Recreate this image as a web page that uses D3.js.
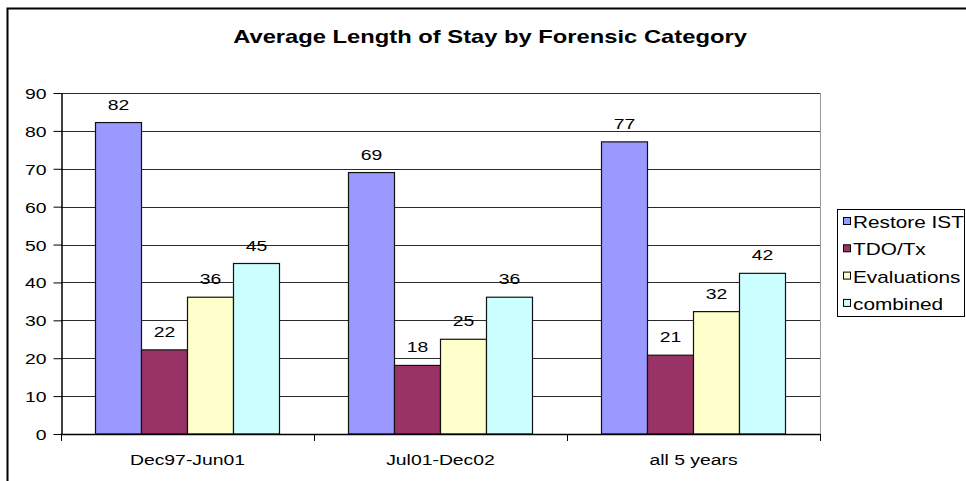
<!DOCTYPE html>
<html>
<head>
<meta charset="utf-8">
<script src="https://cdn.jsdelivr.net/npm/d3@7"></script>
<style>
  html, body { margin: 0; padding: 0; background: #fff; }
  svg { display: block; font-family: Arial, "Liberation Sans", sans-serif; }
</style>
</head>
<body>
<svg id="chart" width="966" height="481"></svg>
<script>
// ---- data ----
const categories = ["Dec97-Jun01", "Jul01-Dec02", "all 5 years"];
const seriesNames = ["Restore IST", "TDO/Tx", "Evaluations", "combined"];
const restoreIST = [82.2, 69.0, 77.1];
const tdoTx = [22.2, 18.1, 20.8];
const evaluations = [36.1, 25.0, 32.3];
const combined = [45.0, 36.1, 42.4];
const seriesColors = ["#9999FF", "#993366", "#FFFFCC", "#CCFFFF"];
const yTicks = [0, 10, 20, 30, 40, 50, 60, 70, 80, 90];
const title = "Average Length of Stay by Forensic Category";

const seriesValues = [restoreIST, tdoTx, evaluations, combined];
const data = categories.map((c, i) => ({
  category: c,
  values: seriesNames.map((s, j) => ({ series: s, value: seriesValues[j][i], color: seriesColors[j] }))
}));

// ---- layout ----
const SX = 1.25; // horizontal text stretch of the original picture
const svg = d3.select("#chart");
const plot = { left: 61, right: 820, top: 93, bottom: 434 };

const x0 = d3.scaleBand().domain(categories).range([plot.left, plot.right]).padding(0);
const x1 = d3.scaleBand().domain(seriesNames).range([0, x0.bandwidth()]).paddingInner(0).paddingOuter(0.75);
const y = d3.scaleLinear().domain([0, 90]).range([plot.bottom, plot.top]);

function stretchedText(g, x, yy, txt, sx) {
  return g.append("text")
    .attr("transform", `translate(${x},${yy}) scale(${sx || SX},1)`)
    .text(txt);
}

// outer border
svg.append("rect")
  .attr("x", 7.5).attr("y", 8.5).attr("width", 980).attr("height", 500)
  .attr("fill", "none").attr("stroke", "#000").attr("stroke-width", 2);

// title
stretchedText(svg, 490, 43, title)
  .attr("text-anchor", "middle")
  .attr("font-size", 19).attr("font-weight", "bold").attr("fill", "#000");

// gridlines
svg.append("g").selectAll("line")
  .data(yTicks.filter(t => t > 0))
  .join("line")
  .attr("x1", plot.left).attr("x2", plot.right)
  .attr("y1", d => Math.round(y(d)) + 0.5).attr("y2", d => Math.round(y(d)) + 0.5)
  .attr("stroke", "#2a2a2a").attr("stroke-width", 1.2);

// right plot border
svg.append("line")
  .attr("x1", plot.right + 0.5).attr("x2", plot.right + 0.5)
  .attr("y1", plot.top).attr("y2", plot.bottom)
  .attr("stroke", "#999").attr("stroke-width", 1);

// y axis
const yAxis = d3.axisLeft(y).tickValues(yTicks).tickSize(8).tickSizeOuter(0).tickFormat(d3.format("d"));
const yg = svg.append("g").attr("transform", `translate(${plot.left + 0.5},0)`).call(yAxis);
yg.select(".domain").attr("stroke", "#000").attr("stroke-width", 1.5);
yg.selectAll(".tick line").attr("stroke", "#000");
yg.selectAll(".tick text").remove();
yg.selectAll(".tick").each(function(d) {
  stretchedText(d3.select(this), -15, 5.5, d3.format("d")(d))
    .attr("text-anchor", "end").attr("font-size", 15.5).attr("fill", "#000");
});

// bars
const groups = svg.append("g").selectAll("g")
  .data(data).join("g")
  .attr("transform", d => `translate(${x0(d.category)},0)`);

groups.selectAll("rect")
  .data(d => d.values).join("rect")
  .attr("x", d => x1(d.series))
  .attr("y", d => y(d.value))
  .attr("width", x1.bandwidth())
  .attr("height", d => y(0) - y(d.value))
  .attr("fill", d => d.color)
  .attr("stroke", "#111").attr("stroke-width", 1.2);

// data labels
groups.each(function(d) {
  const g = d3.select(this);
  d.values.forEach(v => {
    stretchedText(g, x1(v.series) + x1.bandwidth() / 2, y(v.value) - 13, d3.format(".0f")(v.value))
      .attr("text-anchor", "middle").attr("font-size", 15.5).attr("fill", "#000");
  });
});

// x axis
const xAxisLine = svg.append("g");
xAxisLine.append("line")
  .attr("x1", plot.left).attr("x2", plot.right)
  .attr("y1", plot.bottom + 0.5).attr("y2", plot.bottom + 0.5)
  .attr("stroke", "#000").attr("stroke-width", 1.5);
const boundaries = categories.map(c => x0(c)).concat([x0.range()[1]]);
xAxisLine.selectAll("line.tk").data(boundaries).join("line")
  .attr("class", "tk")
  .attr("x1", d => d + 0.5).attr("x2", d => d + 0.5)
  .attr("y1", plot.bottom).attr("y2", plot.bottom + 7)
  .attr("stroke", "#000").attr("stroke-width", 1);
categories.forEach(c => {
  stretchedText(xAxisLine, x0(c) + x0.bandwidth() / 2, 464.5, c)
    .attr("text-anchor", "middle").attr("font-size", 15.5).attr("fill", "#000");
});

// legend
const legend = svg.append("g");
legend.append("rect")
  .attr("x", 837.5).attr("y", 209.5).attr("width", 127).attr("height", 107)
  .attr("fill", "#fff").attr("stroke", "#000").attr("stroke-width", 1);
seriesNames.forEach((s, i) => {
  const by = 228 + i * 27.3;
  legend.append("rect")
    .attr("x", 843.5).attr("y", by - 10.5).attr("width", 7).attr("height", 7)
    .attr("fill", seriesColors[i]).attr("stroke", "#000").attr("stroke-width", 1);
  stretchedText(legend, 853, by, s, 1.3)
    .attr("font-size", 16).attr("fill", "#000");
});
</script>
</body>
</html>
